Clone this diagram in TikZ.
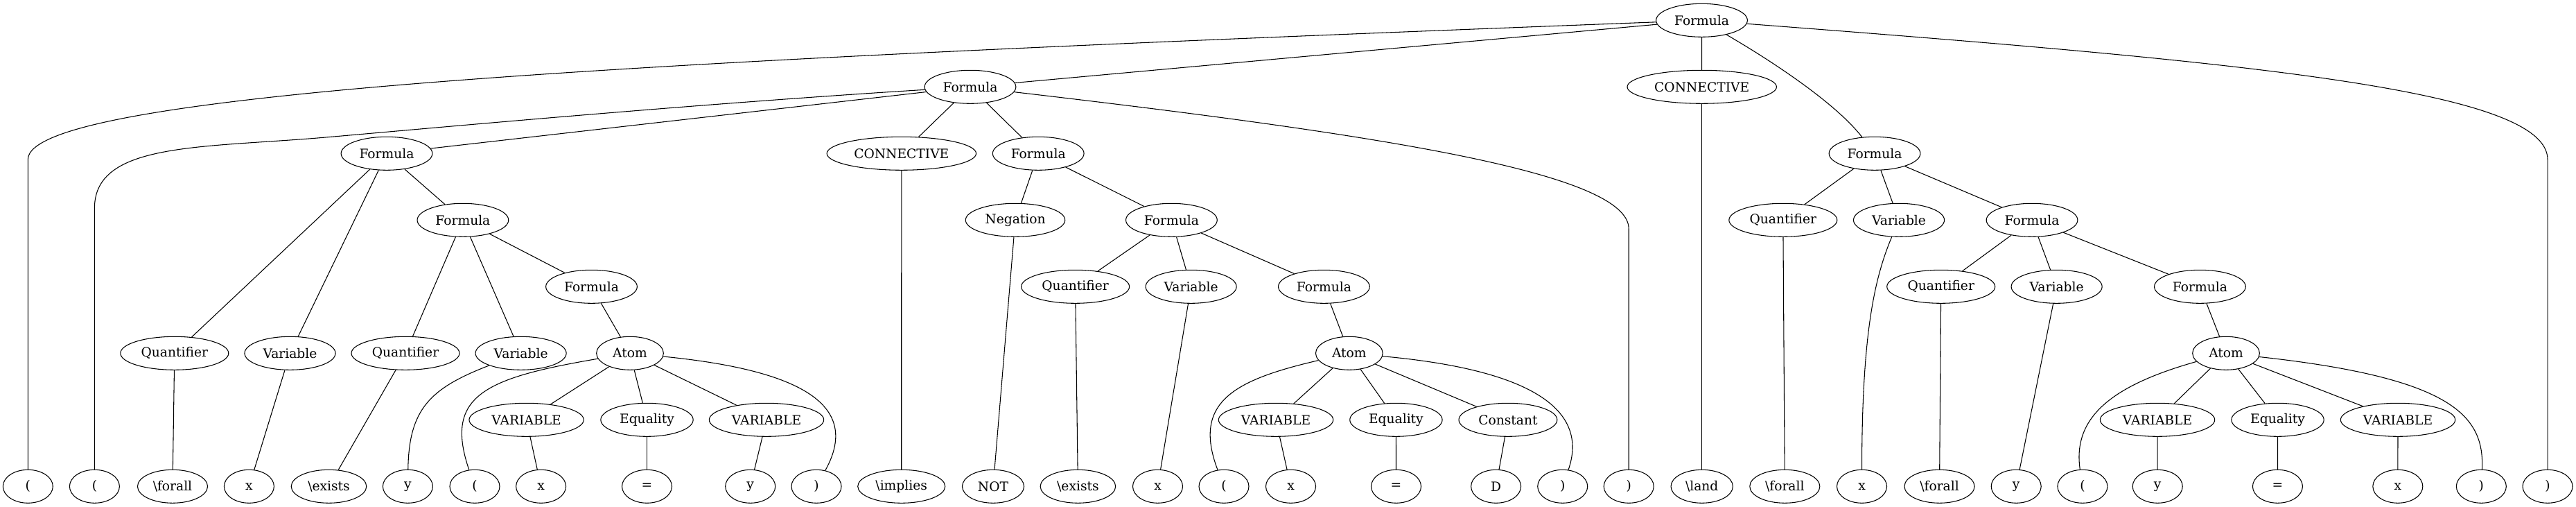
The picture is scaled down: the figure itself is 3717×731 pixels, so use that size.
\documentclass[tikz,border=0pt]{standalone}
\usepackage{fontspec}
\setmainfont{DejaVu Serif}
\usetikzlibrary{shapes.geometric}
\begin{document}
\begin{tikzpicture}[x=0.75pt,y=-0.75pt,
  nd/.style={ellipse, draw, line width=0.8pt, minimum height=36pt, inner sep=0pt, font=\fontsize{14}{16}\selectfont},
  edge/.style={line width=0.8pt},
  fm/.style={minimum width=98.8pt},
  cn/.style={minimum width=161.6pt},
  qt/.style={minimum width=117pt},
  vr/.style={minimum width=98.3pt},
  atm/.style={minimum width=72.5pt},
  VR/.style={minimum width=124pt},
  eq/.style={minimum width=100pt},
  ct/.style={minimum width=106.4pt},
  ng/.style={minimum width=107.6pt},
  lf/.style={minimum width=54pt},
  fa/.style={minimum width=75.8pt},
  ld/.style={minimum width=67pt},
  im/.style={minimum width=94.5pt},
  nt/.style={minimum width=66.8pt},
  ex/.style={minimum width=81.4pt}]
\fill[white] (0,0) rectangle (3717,731);
\useasboundingbox (0,0) rectangle (3717,731);
% rank 0
\node[nd,fm] (R) at (2455.5,29.3) {Formula};
% rank 1
\node[nd,fm] (F1) at (1400,125.3) {Formula};
\node[nd,cn] (C1) at (2455.7,125.3) {CONNECTIVE};
% rank 2
\node[nd,fm] (F2) at (558,221.3) {Formula};
\node[nd,cn] (C2) at (1300.8,221.3) {CONNECTIVE};
\node[nd,fm] (F3) at (1498.2,221.3) {Formula};
\node[nd,fm] (F4) at (2705,221.3) {Formula};
% rank 3
\node[nd,fm] (F5) at (667.9,317.3) {Formula};
\node[nd,ng] (NG) at (1465,317.3) {Negation};
\node[nd,fm] (F6) at (1690.4,317.3) {Formula};
\node[nd,qt] (Q4) at (2572.8,317.3) {Quantifier};
\node[nd,vr] (V4) at (2740,317.3) {Variable};
\node[nd,fm] (F7) at (2932,317.3) {Formula};
% rank 4
\node[nd,fm] (F8) at (853.5,413.3) {Formula};
\node[nd,qt] (Q3) at (1551.6,413.3) {Quantifier};
\node[nd,vr] (V3) at (1718.6,413.3) {Variable};
\node[nd,fm] (F9) at (1910.4,413.3) {Formula};
\node[nd,qt] (Q5) at (2800.7,413.3) {Quantifier};
\node[nd,vr] (V5) at (2967.6,413.3) {Variable};
\node[nd,fm] (F10) at (3174.4,413.3) {Formula};
% rank 5
\node[nd,qt] (Q1) at (251.8,509.3) {Quantifier};
\node[nd,vr] (V1) at (418.5,509.3) {Variable};
\node[nd,qt] (Q2) at (585,509.3) {Quantifier};
\node[nd,vr] (V2) at (751.6,509.3) {Variable};
\node[nd,atm] (A1) at (909,509.3) {Atom};
\node[nd,atm] (A2) at (1946.8,509.3) {Atom};
\node[nd,atm] (A3) at (3212,509.3) {Atom};
% rank 6
\node[nd,VR] (VA1) at (759.6,605.3) {VARIABLE};
\node[nd,eq] (E1) at (933.5,605.3) {Equality};
\node[nd,VR] (VA2) at (1106,605.3) {VARIABLE};
\node[nd,VR] (VA3) at (1841,605.3) {VARIABLE};
\node[nd,eq] (E2) at (2014.4,605.3) {Equality};
\node[nd,ct] (K) at (2175.9,605.3) {Constant};
\node[nd,VR] (VA4) at (3113,605.3) {VARIABLE};
\node[nd,eq] (E3) at (3286.5,605.3) {Equality};
\node[nd,VR] (VA5) at (3460,605.3) {VARIABLE};
% rank 7 leaves
\node[nd,lf] (L1) at (40.3,701.3) {(};
\node[nd,lf] (L2) at (136.4,701.3) {(};
\node[nd,fa] (L3) at (249,701.3) {\textbackslash forall};
\node[nd,lf] (L4) at (359.4,701.3) {x};
\node[nd,ex] (L5) at (474.5,701.3) {\textbackslash exists};
\node[nd,lf] (L6) at (588.4,701.3) {y};
\node[nd,lf] (L7) at (685,701.3) {(};
\node[nd,lf] (L8) at (780.6,701.3) {x};
\node[nd,lf] (L9) at (933.5,701.3) {=};
\node[nd,lf] (L10) at (1082.7,701.3) {y};
\node[nd,lf] (L11) at (1178,701.3) {)};
\node[nd,im] (L12) at (1300.7,701.3) {\textbackslash implies};
\node[nd,nt] (L13) at (1433,701.3) {NOT};
\node[nd,ex] (L14) at (1555.4,701.3) {\textbackslash exists};
\node[nd,lf] (L15) at (1670.5,701.3) {x};
\node[nd,lf] (L16) at (1766,701.3) {(};
\node[nd,lf] (L17) at (1862.5,701.3) {x};
\node[nd,lf] (L18) at (2014.5,701.3) {=};
\node[nd,lf] (L19) at (2158.6,701.3) {D};
\node[nd,lf] (L20) at (2254.7,701.3) {)};
\node[nd,lf] (L21) at (2350.2,701.3) {)};
\node[nd,ld] (L22) at (2455.7,701.3) {\textbackslash land};
\node[nd,fa] (L23) at (2575.3,701.3) {\textbackslash forall};
\node[nd,lf] (L24) at (2686.5,701.3) {x};
\node[nd,fa] (L25) at (2798.5,701.3) {\textbackslash forall};
\node[nd,lf] (L26) at (2909.2,701.3) {y};
\node[nd,lf] (L27) at (3004.9,701.3) {(};
\node[nd,lf] (L28) at (3113.2,701.3) {y};
\node[nd,lf] (L29) at (3286.4,701.3) {=};
\node[nd,lf] (L30) at (3459.8,701.3) {x};
\node[nd,lf] (L31) at (3580.3,701.3) {)};
\node[nd,lf] (L32) at (3676,701.3) {)};
% edges from root
\draw[edge] (R) .. controls (1000,85) and (40.3,130) .. (40.3,230) -- (L1);
\draw[edge] (R) -- (F1);
\draw[edge] (R) -- (C1);
\draw[edge] (R) .. controls (2560,90) and (2650,150) .. (F4);
\draw[edge] (R) .. controls (3250,90) and (3676,130) .. (3676,230) -- (L32);
% edges from F1
\draw[edge] (F1) .. controls (1000,150) and (620,185) .. (470,198) .. controls (290,213.6) and (136.4,205) .. (136.4,300) -- (L2);
\draw[edge] (F1) -- (F2);
\draw[edge] (F1) -- (C2);
\draw[edge] (F1) -- (F3);
\draw[edge] (F1) .. controls (2000,195) and (2350.2,250) .. (2350.2,330) -- (L21);
% left subtree
\draw[edge] (F2) -- (Q1);
\draw[edge] (F2) -- (V1);
\draw[edge] (F2) -- (F5);
\draw[edge] (Q1) -- (L3);
\draw[edge] (V1) -- (L4);
\draw[edge] (F5) -- (Q2);
\draw[edge] (F5) -- (V2);
\draw[edge] (F5) -- (F8);
\draw[edge] (Q2) -- (L5);
\draw[edge] (V2) .. controls (620,560) and (590,590) .. (L6);
\draw[edge] (F8) -- (A1);
\draw[edge] (A1) .. controls (700,545) and (640,570) .. (L7);
\draw[edge] (A1) -- (VA1);
\draw[edge] (A1) -- (E1);
\draw[edge] (A1) -- (VA2);
\draw[edge] (A1) .. controls (1170,535) and (1240,590) .. (L11);
\draw[edge] (VA1) -- (L8);
\draw[edge] (E1) -- (L9);
\draw[edge] (VA2) -- (L10);
% middle
\draw[edge] (C2) -- (L12);
\draw[edge] (F3) -- (NG);
\draw[edge] (F3) -- (F6);
\draw[edge] (NG) -- (L13);
\draw[edge] (F6) -- (Q3);
\draw[edge] (F6) -- (V3);
\draw[edge] (F6) -- (F9);
\draw[edge] (Q3) -- (L14);
\draw[edge] (V3) -- (L15);
\draw[edge] (F9) -- (A2);
\draw[edge] (A2) .. controls (1780,548) and (1720,580) .. (L16);
\draw[edge] (A2) -- (VA3);
\draw[edge] (A2) -- (E2);
\draw[edge] (A2) -- (K);
\draw[edge] (A2) .. controls (2230,535) and (2290,600) .. (L20);
\draw[edge] (VA3) -- (L17);
\draw[edge] (E2) -- (L18);
\draw[edge] (K) -- (L19);
% right
\draw[edge] (C1) -- (L22);
\draw[edge] (F4) -- (Q4);
\draw[edge] (F4) -- (V4);
\draw[edge] (F4) -- (F7);
\draw[edge] (Q4) -- (L23);
\draw[edge] (V4) .. controls (2705,400) and (2686.5,480) .. (L24);
\draw[edge] (F7) -- (Q5);
\draw[edge] (F7) -- (V5);
\draw[edge] (F7) -- (F10);
\draw[edge] (Q5) -- (L25);
\draw[edge] (V5) -- (L26);
\draw[edge] (F10) -- (A3);
\draw[edge] (A3) .. controls (3050,555) and (2990,600) .. (L27);
\draw[edge] (A3) -- (VA4);
\draw[edge] (A3) -- (E3);
\draw[edge] (A3) -- (VA5);
\draw[edge] (A3) .. controls (3540,545) and (3585,600) .. (L31);
\draw[edge] (VA4) -- (L28);
\draw[edge] (E3) -- (L29);
\draw[edge] (VA5) -- (L30);
\end{tikzpicture}
\end{document}
